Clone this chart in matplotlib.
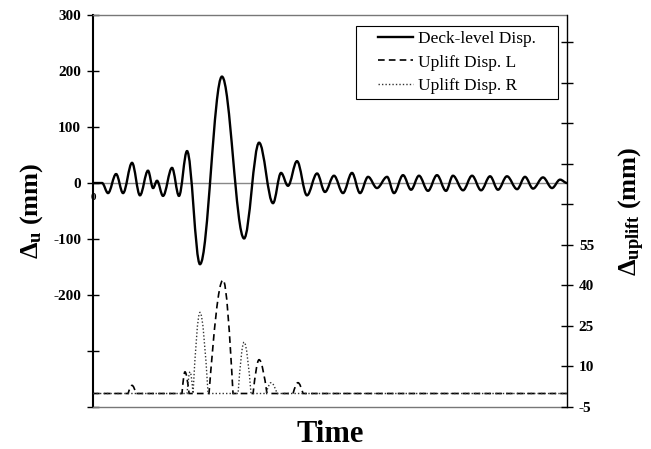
import matplotlib
matplotlib.use('Agg')
import matplotlib.pyplot as plt
from matplotlib.path import Path
from matplotlib.patches import PathPatch, Rectangle
from matplotlib.lines import Line2D

plt.rcParams['font.family'] = 'Liberation Serif'
plt.rcParams['mathtext.fontset'] = 'custom'
plt.rcParams['mathtext.rm'] = 'Liberation Serif:bold'
plt.rcParams['mathtext.bf'] = 'Liberation Serif:bold'
plt.rcParams['mathtext.it'] = 'Liberation Serif:bold'

# Deck-level displacement: turning points (time s, mm)
deck_t = [0.00, 0.57, 0.95, 1.46, 1.90, 2.47, 2.97, 3.48, 3.80, 4.05, 4.43, 5.00,
          5.44, 5.95, 6.77, 8.16, 9.56, 10.51, 11.39, 11.90, 12.34, 12.91, 13.54,
          14.18, 14.68, 15.25, 15.82, 16.39, 16.90, 17.41, 17.97, 18.61, 19.05,
          19.62, 20.13, 20.63, 21.20, 21.77, 22.34, 22.78, 23.42, 23.99, 24.56,
          25.13, 25.63, 26.20, 26.84, 27.34, 27.85, 28.48, 29.05, 29.56, 30.00]
deck_u = [0, 0, -18, 16, -18, 36, -22, 22, -9, 4, -23, 27,
          -23, 57, -145, 190, -99, 72, -36, 18, -5, 39, -22,
          17, -16, 13, -18, 18, -18, 11, -9, 11, -18,
          14, -12, 13, -14, 14, -14, 13, -13, 13, -13,
          12, -12, 12, -11, 11, -10, 10, -9, 6, 0]

# Uplift at the left bearing (mm)
upl_t = [0.00, 2.22, 2.47, 2.72, 5.63, 5.82, 6.08, 7.34, 8.23, 8.86,
         10.13, 10.51, 11.01, 12.66, 12.97, 13.29, 30.00]
upl_u = [0, 0, 3, 0, 0, 8, 0, 0, 42, 0,
         0, 12.5, 0, 0, 4, 0, 0]

# Uplift at the right bearing (mm)
upr_t = [0.00, 5.95, 6.14, 6.33, 6.77, 7.28, 9.18, 9.56, 10.00,
         10.95, 11.27, 11.65, 30.00]
upr_u = [0, 0, 8, 0, 30, 0, 0, 19, 0,
         0, 4, 0, 0]

left_ticks = [-400, -300, -200, -100, 0, 100, 200, 300]
left_labels = ['', '', '-200', '-100', '0', '100', '200', '300']
right_ticks = [-5, 10, 25, 40, 55, 70, 85, 100, 115, 130]
right_labels = ['-5', '10', '25', '40', '55', '', '', '', '', '']


# smooth curve through the turning points (flat tangents at each point)
def smooth_path(t, v, k=0.36):
    verts = [(t[0], v[0])]
    codes = [Path.MOVETO]
    for i in range(1, len(t)):
        dt = t[i] - t[i - 1]
        verts += [(t[i - 1] + k * dt, v[i - 1]), (t[i] - k * dt, v[i]), (t[i], v[i])]
        codes += [Path.CURVE4] * 3
    return Path(verts, codes)


# bumps on a zero baseline: steep at the foot, round on top
def bump_path(t, v):
    verts = [(t[0], v[0])]
    codes = [Path.MOVETO]
    for i in range(1, len(t)):
        t0, t1, v0, v1 = t[i - 1], t[i], v[i - 1], v[i]
        dt = t1 - t0
        if v0 == v1:
            verts += [(t1, v1)]
            codes += [Path.LINETO]
            continue
        if v1 > v0:   # foot -> top
            c1 = (t0 + dt / 3, v0 + 0.525 * (v1 - v0))
            c2 = (t1 - dt / 3, v1)
        else:         # top -> foot
            c1 = (t0 + dt / 3, v0)
            c2 = (t1 - dt / 3, v1 + 0.525 * (v0 - v1))
        verts += [c1, c2, (t1, v1)]
        codes += [Path.CURVE4] * 3
    return Path(verts, codes)


fig = plt.figure(figsize=(6.51, 4.49), dpi=100)
ax = fig.add_axes([0.1429, 0.0935, 0.7281, 0.8731])
ax2 = ax.twinx()

ax.set_xlim(0, 30)
ax.set_ylim(-400, 300)
ax2.set_ylim(-5, 140)

dash_l = (0, (4, 2.5))
dot_r = (0, (1, 1.5))

ax.axhline(0, color='#888888', lw=1.0, zorder=1)
ax.add_patch(PathPatch(smooth_path(deck_t, deck_u), fill=False, color='black',
                       lw=1.7, capstyle='round', zorder=3))
ax2.add_patch(PathPatch(bump_path(upl_t, upl_u), fill=False, color='black',
                        lw=1.2, linestyle=dash_l, zorder=3))
ax2.add_patch(PathPatch(bump_path(upr_t, upr_u), fill=False, color='#333333',
                        lw=1.0, linestyle=dot_r, zorder=3))

# axes / ticks
ax.set_xticks([])
ax.set_yticks(left_ticks)
ax.set_yticklabels(left_labels, fontsize=11, fontweight='bold')
ax.tick_params(axis='y', direction='inout', length=9, width=1.0, pad=4)
ax2.set_yticks(right_ticks)
ax2.set_yticklabels(right_labels, fontsize=11, fontweight='bold')
ax2.tick_params(axis='y', direction='inout', length=9, width=1.0, pad=4)

ax.spines['left'].set_linewidth(1.5)
ax.spines['right'].set_visible(False)
for s in ['top', 'bottom']:
    ax.spines[s].set_linestyle((0, (1, 1)))
    ax.spines[s].set_color('#777777')
    ax.spines[s].set_linewidth(1.0)
for s in ['left', 'top', 'bottom']:
    ax2.spines[s].set_visible(False)
ax2.spines['right'].set_linewidth(1.0)

ax.text(0, -25, '0', ha='center', va='center', fontsize=8, fontweight='bold')

ax.set_xlabel('Time', fontsize=22, fontweight='bold', labelpad=9)
ax.set_ylabel(r'$\Delta_{u}$ (mm)', fontsize=19, fontweight='bold', labelpad=6)
ax2.set_ylabel(r'$\Delta_{uplift}$ (mm)', fontsize=19, fontweight='bold', labelpad=16)

# legend: frame drawn separately so it can be wider than its content
ax2.add_patch(Rectangle((0.555, 0.786), 0.426, 0.186, transform=ax2.transAxes,
                        facecolor='white', edgecolor='black', lw=0.8, zorder=4))
handles = [Line2D([], [], color='black', lw=1.7),
           Line2D([], [], color='black', lw=1.2, linestyle=dash_l),
           Line2D([], [], color='#333333', lw=1.0, linestyle=dot_r)]
leg = ax2.legend(handles, ['Deck-level Disp.', 'Uplift Disp. L', 'Uplift Disp. R'],
                 loc='center', bbox_to_anchor=(0.768, 0.879), fontsize=12.5,
                 frameon=False, handlelength=2.0, handletextpad=0.3,
                 labelspacing=0.42, borderpad=0.2)
leg.set_zorder(5)

plt.savefig('out.png', dpi=100)
